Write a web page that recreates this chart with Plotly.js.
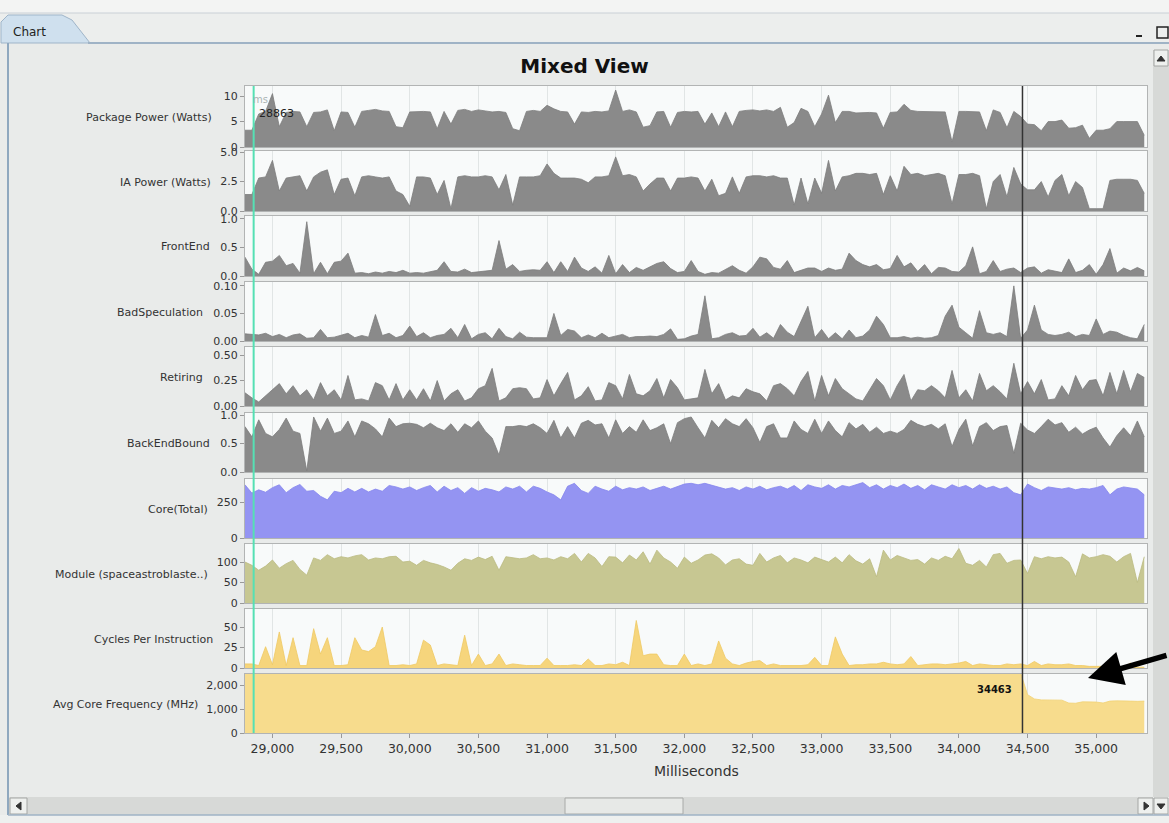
<!DOCTYPE html>
<html>
<head>
<meta charset="utf-8">
<script src="https://cdn.plot.ly/plotly-3.0.1.min.js"></script>
<style>html,body{margin:0;padding:0;background:#e9ebea;}#chart{width:1169px;height:823px;}</style>
</head>
<body>
<div id="chart"></div>
<script>
// ---------------- DATA ----------------
const T0 = 28800, DT = 50; // sample clock (ms)

const packagePower = [3.3,3.3,6.5,7.0,10.5,4.0,6.8,7.0,6.9,4.0,
 6.8,6.9,7.3,3.2,6.9,6.8,3.9,7.0,7.2,7.4,
 7.1,7.0,4.0,3.8,6.9,7.0,7.0,6.9,3.6,7.0,
 4.5,7.2,7.4,7.0,7.3,7.1,6.9,7.0,6.8,3.6,
 3.2,7.0,7.2,7.0,8.2,7.5,7.0,6.9,4.5,6.9,
 6.8,7.0,6.9,7.1,11.2,7.0,7.3,6.9,3.9,4.2,
 6.9,7.0,3.9,6.8,7.0,6.9,7.0,4.5,6.7,4.0,
 6.9,4.0,7.0,7.2,7.3,7.1,7.3,7.0,7.8,3.9,
 4.8,7.6,7.0,4.0,6.5,10.2,4.8,7.0,7.0,6.7,
 6.8,6.8,6.7,3.7,6.8,6.9,8.4,7.2,7.0,7.0,
 7.0,7.0,6.9,1.0,7.0,7.0,7.0,6.9,3.2,7.3,
 6.8,3.8,7.0,6.0,4.5,4.4,3.2,5.0,5.0,5.3,
 3.7,3.8,4.3,1.7,3.3,3.3,3.6,5.0,5.0,5.0,
 5.0,2.3];

const iaPower = [1.4,1.4,2.8,2.9,4.3,1.7,2.8,2.9,3.0,1.7,
 2.9,3.3,3.5,1.4,2.7,2.8,1.3,2.9,3.0,2.9,
 2.8,2.9,1.7,1.4,0.4,2.9,2.9,2.8,1.4,2.6,
 0.2,2.9,3.0,2.9,2.9,3.0,2.9,1.8,3.1,0.5,
 2.9,2.9,2.9,3.0,4.0,3.2,2.8,2.8,2.8,2.7,
 2.4,2.9,2.9,3.0,4.6,3.0,3.1,2.9,1.7,2.3,
 2.8,2.8,1.7,2.8,2.8,2.9,2.8,1.7,2.7,1.3,
 1.5,2.9,1.5,2.9,3.0,3.0,2.9,3.0,2.8,2.8,
 0.5,2.8,0.6,2.8,1.5,4.3,1.7,2.9,3.0,3.2,
 3.2,3.1,3.2,1.4,3.0,1.7,3.8,3.1,3.2,3.0,
 3.1,3.2,3.0,0.6,3.1,3.1,3.2,3.0,0.2,2.5,
 3.1,1.2,3.7,2.3,1.8,1.8,2.5,1.2,2.6,3.1,
 1.3,2.5,2.0,0.2,0.2,0.2,2.6,2.7,2.7,2.7,
 2.6,1.5];

const frontEnd = [0.33,0.12,0.03,0.24,0.26,0.36,0.18,0.22,0.05,0.95,
 0.04,0.24,0.04,0.24,0.26,0.4,0.05,0.06,0.04,0.07,
 0.05,0.08,0.06,0.1,0.05,0.06,0.05,0.07,0.1,0.25,
 0.08,0.07,0.12,0.06,0.07,0.09,0.1,0.62,0.12,0.2,
 0.08,0.1,0.11,0.1,0.25,0.06,0.25,0.08,0.33,0.14,
 0.08,0.16,0.05,0.36,0.04,0.2,0.06,0.15,0.1,0.16,
 0.22,0.25,0.13,0.06,0.08,0.27,0.08,0.03,0.06,0.05,
 0.12,0.18,0.1,0.05,0.16,0.33,0.3,0.15,0.12,0.27,
 0.06,0.1,0.14,0.14,0.08,0.14,0.1,0.12,0.4,0.27,
 0.2,0.16,0.2,0.11,0.13,0.36,0.16,0.23,0.08,0.2,
 0.04,0.15,0.14,0.08,0.07,0.18,0.51,0.04,0.08,0.27,
 0.08,0.12,0.14,0.06,0.14,0.16,0.05,0.11,0.08,0.06,
 0.3,0.06,0.1,0.2,0.03,0.2,0.48,0.05,0.14,0.09,
 0.15,0.09];

const badSpeculation = [0.013,0.012,0.011,0.014,0.008,0.012,0.006,0.011,0.013,0.005,
 0.006,0.021,0.006,0.007,0.01,0.014,0.006,0.01,0.007,0.048,
 0.01,0.014,0.006,0.01,0.027,0.008,0.015,0.006,0.01,0.012,
 0.023,0.006,0.03,0.004,0.012,0.015,0.004,0.023,0.008,0.004,
 0.016,0.007,0.006,0.006,0.006,0.05,0.01,0.021,0.018,0.006,
 0.011,0.006,0.014,0.006,0.009,0.012,0.006,0.008,0.008,0.009,
 0.008,0.012,0.022,0.003,0.004,0.009,0.012,0.082,0.004,0.006,
 0.012,0.015,0.009,0.01,0.023,0.007,0.015,0.005,0.03,0.016,
 0.008,0.034,0.063,0.006,0.021,0.004,0.015,0.004,0.02,0.006,
 0.009,0.02,0.045,0.03,0.006,0.006,0.008,0.005,0.007,0.005,
 0.006,0.01,0.045,0.065,0.025,0.015,0.005,0.055,0.015,0.012,
 0.015,0.008,0.1,0.005,0.02,0.065,0.02,0.012,0.01,0.012,
 0.016,0.008,0.012,0.01,0.04,0.012,0.018,0.016,0.01,0.006,
 0.004,0.03];

const retiring = [0.13,0.08,0.04,0.1,0.16,0.22,0.12,0.2,0.1,0.16,
 0.06,0.23,0.1,0.16,0.06,0.3,0.06,0.07,0.05,0.23,
 0.2,0.06,0.22,0.06,0.16,0.06,0.17,0.05,0.25,0.05,
 0.12,0.16,0.05,0.08,0.17,0.2,0.37,0.05,0.08,0.17,
 0.18,0.17,0.07,0.08,0.26,0.1,0.22,0.33,0.06,0.1,
 0.19,0.05,0.06,0.23,0.2,0.07,0.31,0.12,0.1,0.15,
 0.27,0.08,0.26,0.18,0.06,0.07,0.08,0.36,0.12,0.22,
 0.06,0.1,0.08,0.17,0.14,0.12,0.05,0.2,0.22,0.17,
 0.1,0.24,0.34,0.05,0.3,0.1,0.27,0.17,0.12,0.07,
 0.05,0.16,0.27,0.2,0.06,0.2,0.31,0.05,0.16,0.15,
 0.2,0.15,0.08,0.35,0.08,0.16,0.05,0.32,0.15,0.2,
 0.14,0.07,0.42,0.12,0.24,0.12,0.26,0.06,0.07,0.2,
 0.1,0.3,0.16,0.25,0.26,0.1,0.33,0.12,0.35,0.14,
 0.32,0.28];

const backEndBound = [0.8,0.62,0.92,0.68,0.62,0.75,0.95,0.72,0.68,0.02,
 0.97,0.72,0.95,0.68,0.72,0.9,0.62,0.9,0.85,0.76,
 0.62,0.95,0.8,0.85,0.86,0.84,0.78,0.86,0.78,0.73,
 0.85,0.7,0.85,0.78,0.9,0.72,0.6,0.3,0.8,0.8,
 0.82,0.8,0.85,0.78,0.68,0.91,0.6,0.8,0.6,0.86,
 0.91,0.83,0.85,0.6,0.92,0.68,0.8,0.7,0.92,0.73,
 0.78,0.85,0.5,0.87,0.94,0.97,0.78,0.6,0.91,0.78,
 0.94,0.85,0.8,0.94,0.78,0.52,0.8,0.85,0.6,0.6,
 0.9,0.75,0.68,0.93,0.68,0.9,0.73,0.62,0.87,0.76,
 0.84,0.7,0.79,0.68,0.72,0.68,0.75,0.91,0.84,0.8,
 0.84,0.76,0.85,0.45,0.75,0.93,0.46,0.8,0.87,0.73,
 0.8,0.82,0.33,0.86,0.74,0.68,0.8,0.93,0.83,0.87,
 0.7,0.79,0.67,0.74,0.79,0.6,0.44,0.64,0.78,0.64,
 0.9,0.62];

const coreTotal = [370,312,335,318,350,370,315,350,372,325,
 330,290,265,325,315,345,320,345,320,340,
 325,365,355,340,355,330,350,365,320,360,
 330,350,310,350,325,345,335,320,355,340,
 360,320,360,345,320,300,265,360,380,330,
 310,360,340,325,360,335,350,340,355,330,
 345,360,340,360,375,380,370,380,368,355,
 340,350,330,355,340,360,335,350,360,340,
 365,330,370,355,345,370,340,365,355,370,
 385,350,370,340,365,350,375,345,365,335,
 370,355,340,370,350,365,340,370,345,360,
 340,355,315,300,375,350,330,355,345,340,
 350,335,345,340,350,365,300,340,355,345,
 340,300];

const moduleUtil = [100,92,80,90,105,85,96,104,82,68,
 110,104,118,108,113,110,115,118,105,110,
 108,113,114,100,102,92,104,98,94,88,
 80,97,108,104,112,106,114,80,113,110,
 108,110,118,108,110,105,113,108,121,100,
 121,110,89,113,112,98,117,105,125,95,
 129,110,100,85,112,97,105,117,120,110,
 93,105,108,95,92,121,100,110,116,98,
 110,105,98,112,106,100,112,98,118,103,
 95,108,64,129,105,116,110,104,106,95,
 110,104,114,108,133,97,92,104,88,118,
 121,97,104,105,72,113,108,113,110,112,
 100,64,120,110,113,118,114,100,113,121,
 50,113];

const cyclesPerInstr = [5,5,3,26,4,44,3,37,3,3,
 48,17,37,3,3,4,37,22,20,26,
 50,3,3,4,3,5,34,28,3,5,
 4,3,40,3,17,3,5,17,3,5,
 4,3,3,3,12,3,3,3,4,3,
 11,3,3,5,4,7,3,58,15,17,
 17,4,3,3,17,3,5,3,5,33,
 12,5,3,6,8,9,3,5,3,3,
 3,3,4,13,3,3,38,17,3,4,
 4,5,5,7,5,4,5,14,3,4,
 5,5,4,5,6,8,3,5,4,3,
 3,5,4,5,3,8,3,5,4,4,
 5,3,3,2,2,2,1,2,1,6,
 1,1];

const avgCoreFreq = [2500,2500,2500,2500,2500,2500,2500,2500,2500,2500,
 2500,2500,2500,2500,2500,2500,2500,2500,2500,2500,
 2500,2500,2500,2500,2500,2500,2500,2500,2500,2500,
 2500,2500,2500,2500,2500,2500,2500,2500,2500,2500,
 2500,2500,2500,2500,2500,2500,2500,2500,2500,2500,
 2500,2500,2500,2500,2500,2500,2500,2500,2500,2500,
 2500,2500,2500,2500,2500,2500,2500,2500,2500,2500,
 2500,2500,2500,2500,2500,2500,2500,2500,2500,2500,
 2500,2500,2500,2500,2500,2500,2500,2500,2500,2500,
 2500,2500,2500,2500,2500,2500,2500,2500,2500,2500,
 2500,2500,2500,2500,2500,2500,2500,2500,2500,2500,
 2500,2500,2500,2500,1600,1420,1380,1370,1375,1370,
 1250,1240,1300,1310,1290,1250,1330,1340,1320,1330,
 1320,1330];

const panelLabels = ['Package Power (Watts)','IA Power (Watts)','FrontEnd','BadSpeculation','Retiring',
  'BackEndBound','Core(Total)','Module (spaceastroblaste..)','Cycles Per Instruction','Avg Core Frequency (MHz)'];

const yTickVals = [[0,5,10],[0,2.5,5],[0,0.5,1],[0,0.05,0.1],[0,0.25,0.5],[0,0.5,1],[0,250],[0,50,100],[0,25,50],[0,1000,2000]];
const yTickText = [['0','5','10'],['0.0','2.5','5.0'],['0.0','0.5','1.0'],['0.00','0.05','0.10'],['0.00','0.25','0.50'],
  ['0.0','0.5','1.0'],['0','250'],['0','50','100'],['0','25','50'],['0','1,000','2,000']];
const yRanges = [[0,12],[0,5.1],[0,1.05],[0,0.107],[0,0.58],[0,1.04],[0,410],[0,144],[0,72],[0,2460]];

const xTickVals = [29000,29500,30000,30500,31000,31500,32000,32500,33000,33500,34000,34500,35000];
const xTickText = ['29,000','29,500','30,000','30,500','31,000','31,500','32,000','32,500','33,000','33,500','34,000','34,500','35,000'];

const markerStart = 28863, markerEnd = 34463;

// ---------------- LAYOUT / STYLE ----------------
const W = 1169, H = 823;
const px = v => v / W, py = v => 1 - v / H;
const seriesList = [packagePower, iaPower, frontEnd, badSpeculation, retiring, backEndBound, coreTotal, moduleUtil, cyclesPerInstr, avgCoreFreq];
const time = packagePower.map((_, i) => T0 + i * DT);

const panelTop = [86,151,216,282,347,413,479,544,609,674];
const panelBot = [147,211,276,341,406,472,538,603,668,733];
const labelRight = [214,213,212,205,205,212,210,210,215,200];
const fills = ['#8a8a8a','#8a8a8a','#8a8a8a','#8a8a8a','#8a8a8a','#8a8a8a','#9494f2','#c7c792','#f6d57c','#f7dc8d'];
const lines = ['#7c7c7c','#7c7c7c','#7c7c7c','#7c7c7c','#7c7c7c','#7c7c7c','#8585ee','#baba80','#efc963','#f1d275'];
const FONT = 'DejaVu Sans';

const traces = [];
const layout = {
  width: W, height: H,
  margin: {l:0, r:0, t:0, b:0},
  paper_bgcolor: '#e9ebea',
  plot_bgcolor: '#f8fafa',
  showlegend: false,
  title: {text: 'Mixed View', x: 0.5, xref: 'paper', xanchor: 'center', y: py(66), yanchor: 'middle',
          font: {family: FONT, size: 20, color: '#111', weight: 'bold'}},
  annotations: [], shapes: []
};

for (let k = 0; k < 10; k++) {
  const s = k === 0 ? '' : String(k + 1);
  traces.push({
    type: 'scatter', mode: 'lines', x: time, y: seriesList[k],
    xaxis: 'x' + s, yaxis: 'y' + s, fill: 'tozeroy',
    fillcolor: fills[k], line: {color: lines[k], width: 0.8}, hoverinfo: 'skip'
  });
  layout['xaxis' + s] = {
    domain: [px(245), px(1147)], range: [28800, 35370], anchor: 'y' + s,
    showline: true, mirror: true, linecolor: '#b2b4b4', linewidth: 1,
    showgrid: true, gridcolor: '#e1e5e5', gridwidth: 1, zeroline: false,
    tickvals: xTickVals, ticktext: xTickText,
    showticklabels: k === 9, ticks: k === 9 ? 'outside' : '', ticklen: 4, tickcolor: '#999',
    tickfont: {family: FONT, size: 12.5, color: '#333'}
  };
  layout['yaxis' + s] = {
    domain: [py(panelBot[k]), py(panelTop[k])], range: yRanges[k], anchor: 'x' + s,
    showline: true, mirror: true, linecolor: '#b2b4b4', linewidth: 1,
    showgrid: false, zeroline: false,
    tickvals: yTickVals[k], ticktext: yTickText[k],
    ticks: 'outside', ticklen: 4, tickcolor: '#999',
    tickfont: {family: FONT, size: 11, color: '#333'}
  };
  layout.annotations.push({
    text: panelLabels[k], xref: 'paper', yref: 'paper',
    x: px(labelRight[k]), y: py((panelTop[k] + panelBot[k]) / 2 + 1),
    xanchor: 'right', yanchor: 'middle', showarrow: false,
    font: {family: FONT, size: 11, color: '#333'}
  });
}

// axis title & texts
layout.annotations.push(
  {text: 'Milliseconds', xref: 'paper', yref: 'paper', x: px(696), y: py(771), xanchor: 'center', yanchor: 'middle',
   showarrow: false, font: {family: FONT, size: 14, color: '#333'}},
  {text: 'ms', xref: 'paper', yref: 'paper', x: px(251), y: py(99), xanchor: 'left', yanchor: 'middle',
   showarrow: false, font: {family: FONT, size: 10, color: '#aab4b4'}},
  {text: String(markerStart), xref: 'paper', yref: 'paper', x: px(257), y: py(113), xanchor: 'left', yanchor: 'middle',
   showarrow: false, font: {family: FONT, size: 11, color: '#222'}},
  {text: String(markerEnd), xref: 'paper', yref: 'paper', x: px(1014), y: py(689), xanchor: 'right', yanchor: 'middle',
   showarrow: false, font: {family: FONT, size: 10, color: '#111', weight: 'bold'}},
  {text: 'Chart', xref: 'paper', yref: 'paper', x: px(11), y: py(32), xanchor: 'left', yanchor: 'middle',
   showarrow: false, font: {family: FONT, size: 12, color: '#222'}},
  {text: '', xref: 'paper', yref: 'paper', x: px(1088), y: py(678), ax: 80, ay: -23,
   showarrow: true, arrowhead: 2, arrowwidth: 5.5, arrowsize: 1.25, arrowcolor: '#000', standoff: 0}
);

// marker lines
layout.shapes.push(
  {type: 'line', xref: 'x', yref: 'paper', x0: markerStart, x1: markerStart, y0: py(733), y1: py(86),
   line: {color: '#55e0b4', width: 2}, layer: 'above'},
  {type: 'line', xref: 'x', yref: 'paper', x0: markerEnd, x1: markerEnd, y0: py(733), y1: py(86),
   line: {color: '#333333', width: 1.5}, layer: 'above'}
);

// window chrome
const R = (x0, y0, x1, y1, fill, lc, lw) => ({type: 'rect', xref: 'paper', yref: 'paper',
  x0: px(x0), x1: px(x1), y0: py(y1), y1: py(y0), fillcolor: fill, line: {color: lc || fill, width: lw || 0}, layer: 'below'});
const L = (x0, y0, x1, y1, c, w) => ({type: 'line', xref: 'paper', yref: 'paper',
  x0: px(x0), x1: px(x1), y0: py(y0), y1: py(y1), line: {color: c, width: w}, layer: 'above'});
const P = (pts, fill, lc) => ({type: 'path', xref: 'paper', yref: 'paper',
  path: 'M' + pts.map(p => px(p[0]) + ',' + py(p[1])).join('L') + 'Z', fillcolor: fill, line: {color: lc || fill, width: 1}, layer: 'above'});

layout.shapes.push(
  R(0, 0, 1169, 13, '#f3f4f3'),
  R(0, 13, 1169, 43, '#eceeed'),
  L(0, 13, 1169, 13, '#c9d0d6', 1),
  P([[1,43],[1,22],[8,15],[62,15],[72,20],[90,43]], '#cfe0ee', '#9fb5c9'),
  L(88, 43, 1169, 43, '#9fb3c6', 2),
  L(8, 43, 8, 815, '#8fa8bf', 2),
  R(0, 815, 1169, 823, '#eef0ef'),
  L(8, 815, 1169, 815, '#9fb3c6', 1.5),
  // right scrollbar
  R(1153, 50, 1169, 797, '#d7d9d7'),
  R(1154, 50, 1168, 66, '#eef0ee', '#a4a6a4', 1),
  P([[1157,61],[1161,56],[1165,61]], '#333'),
  // bottom scrollbar
  R(9, 797, 1153, 815, '#d7d9d7'),
  R(10, 798, 27, 814, '#eef0ee', '#a4a6a4', 1),
  P([[16,806],[21,802],[21,810]], '#333'),
  R(565, 798, 683, 814, '#e7e9e7', '#a8aaa8', 1),
  R(1138, 798, 1153, 814, '#eef0ee', '#a4a6a4', 1),
  P([[1144,802],[1149,806],[1144,810]], '#333'),
  R(1154, 798, 1168, 814, '#eef0ee', '#a4a6a4', 1),
  P([[1157,804],[1161,809],[1165,804]], '#333'),
  // window buttons
  L(1136, 36, 1142, 36, '#222', 2),
  R(1157, 27, 1168, 38, 'rgba(0,0,0,0)', '#222', 1.5)
);

Plotly.newPlot('chart', traces, layout, {staticPlot: true, displayModeBar: false});
</script>
</body>
</html>
